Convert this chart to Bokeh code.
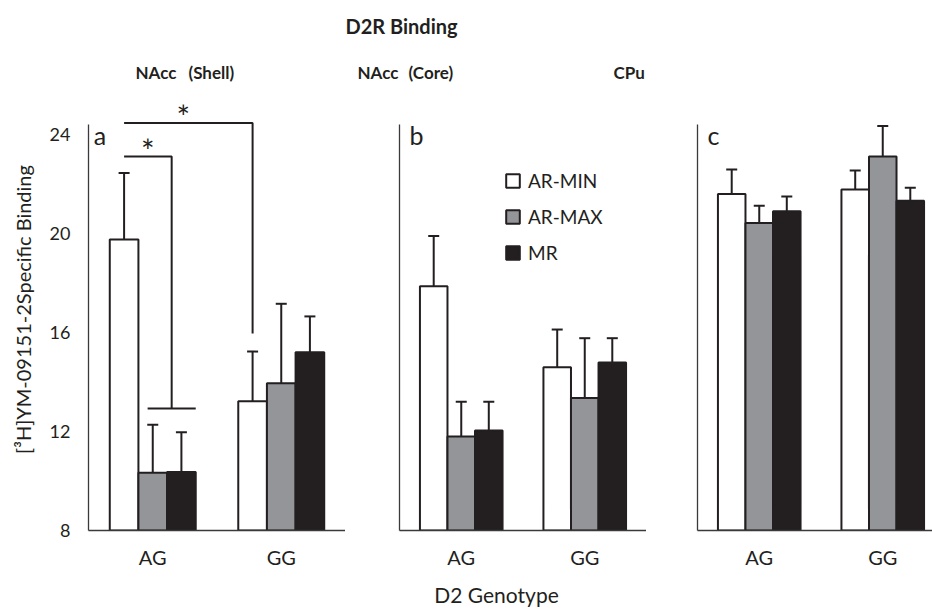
from bokeh.plotting import figure
from bokeh.models import Range1d, FixedTicker, ColumnDataSource, Whisker, TeeHead, Legend, LegendItem
from bokeh.layouts import column, row
from bokeh.embed import file_html
from bokeh.resources import INLINE
from bokeh.core.properties import value

# ---------------- data ----------------
genotypes = ["AG", "GG"]
groups = ["AR-MIN", "AR-MAX", "MR"]

shell_ag = [19.76, 10.33, 10.36]
shell_gg = [13.22, 13.95, 15.20]
shell_ag_sem = [2.68, 1.94, 1.61]
shell_gg_sem = [2.01, 3.21, 1.45]

core_ag = [17.87, 11.80, 12.04]
core_gg = [14.60, 13.35, 14.79]
core_ag_sem = [2.03, 1.40, 1.16]
core_gg_sem = [1.52, 2.42, 0.98]

cpu_ag = [21.60, 20.42, 20.90]
cpu_gg = [21.78, 23.11, 21.32]
cpu_ag_sem = [0.99, 0.70, 0.60]
cpu_gg_sem = [0.77, 1.23, 0.53]

y_ticks = [8, 12, 16, 20, 24]
y_min = 8

# significance brackets (panel a), y levels in data units
sig_outer_y = 24.46
sig_outer_drop = 15.96
sig_inner_y = 23.11
sig_inner_low = 12.93

# ---------------- style ----------------
FONT = value("Lato")
INK = "#231f20"
AXIS = "#3a3a3a"
fills = ["#ffffff", "#939598", "#231f20"]
BW = 0.223
FIG_H = 487
BORDER_B = 45
PX_PER_UNIT = 24.75
y_max = y_min + (FIG_H - BORDER_B) / PX_PER_UNIT


def bar_x(i, k):
    return i + 0.5 + (k - 1) * BW


def make_panel(ag, gg, ag_sem, gg_sem, frame_w, x_end, border_l, letter, letter_x, yticks_on):
    p = figure(width=border_l + frame_w, height=FIG_H,
               x_range=Range1d(0, x_end), y_range=Range1d(y_min, y_max),
               output_backend="svg", toolbar_location=None,
               min_border_left=border_l, min_border_right=0,
               min_border_top=0, min_border_bottom=BORDER_B)
    p.outline_line_color = None
    p.grid.visible = False
    p.background_fill_color = "white"
    p.border_fill_color = "white"

    renderers = []
    for k, g in enumerate(groups):
        xs = [bar_x(i, k) for i in range(len(genotypes))]
        tops = [ag[k], gg[k]]
        sems = [ag_sem[k], gg_sem[k]]
        src = ColumnDataSource(dict(x=xs, top=tops, upper=[t + s for t, s in zip(tops, sems)]))
        r = p.vbar(x="x", top="top", bottom=y_min, width=BW, source=src,
                   fill_color=fills[k], line_color=INK, line_width=2)
        renderers.append(r)
        w = Whisker(source=src, base="x", upper="upper", lower="top", dimension="height",
                    line_color=INK, line_width=2, lower_head=None,
                    upper_head=TeeHead(size=11, line_width=2, line_color=INK))
        p.add_layout(w)

    # axes
    p.xaxis.ticker = FixedTicker(ticks=[i + 0.5 for i in range(len(genotypes))])
    p.xaxis.major_label_overrides = {i + 0.5: g for i, g in enumerate(genotypes)}
    p.xaxis.major_label_text_font = "Lato"
    p.xaxis.major_label_text_font_size = "20px"
    p.xaxis.major_label_text_color = INK
    p.xaxis.major_label_standoff = 8
    for ax in (p.xaxis, p.yaxis):
        ax.axis_line_color = AXIS
        ax.axis_line_width = 1.3
        ax.major_tick_line_color = None
        ax.minor_tick_line_color = None
    p.yaxis.bounds = (y_min, 24.4)
    if yticks_on:
        p.yaxis.ticker = FixedTicker(ticks=y_ticks)
        p.yaxis.major_label_text_font = "Lato"
        p.yaxis.major_label_text_font_size = "18px"
        p.yaxis.major_label_text_color = INK
        p.yaxis.major_label_standoff = 12
        p.yaxis.axis_label = "[\u00b3H]YM-09151-2Specific Binding"
        p.yaxis.axis_label_text_font = "Lato"
        p.yaxis.axis_label_text_font_size = "20px"
        p.yaxis.axis_label_text_font_style = "normal"
        p.yaxis.axis_label_text_color = INK
        p.yaxis.axis_label_standoff = 12
    else:
        p.yaxis.ticker = FixedTicker(ticks=[])

    p.text(x=[letter_x], y=[24.0], text=[letter], text_font=FONT, text_font_size="25px",
           text_align="center", text_baseline="middle", text_color=INK)
    return p, renderers


pa, ra = make_panel(shell_ag, shell_gg, shell_ag_sem, shell_gg_sem, 257, 2.0, 88, "a", 0.09, True)
pb, rb = make_panel(core_ag, core_gg, core_ag_sem, core_gg_sem, 247, 2.0, 54, "b", 0.138, False)
pc, rc = make_panel(cpu_ag, cpu_gg, cpu_ag_sem, cpu_gg_sem, 235, 235 / 123.5, 51, "c", 0.13, False)

# significance brackets on panel a
x_min_ag = bar_x(0, 0)
x_min_gg = bar_x(1, 0)
low_l = bar_x(0, 1) - 0.04
low_r = bar_x(0, 2) + BW / 2
mid_low = (low_l + low_r) / 2
pa.line(x=[x_min_ag, x_min_gg, x_min_gg], y=[sig_outer_y, sig_outer_y, sig_outer_drop],
        line_color=INK, line_width=2)
pa.line(x=[x_min_ag, mid_low, mid_low], y=[sig_inner_y, sig_inner_y, sig_inner_low],
        line_color=INK, line_width=2)
pa.line(x=[low_l, low_r], y=[sig_inner_low, sig_inner_low], line_color=INK, line_width=2)
pa.text(x=[(x_min_ag + x_min_gg) / 2 - 0.04, (x_min_ag + mid_low) / 2],
        y=[sig_outer_y + 0.25, sig_inner_y + 0.25], text=["*", "*"], text_font=FONT,
        text_font_size="32px", text_align="center", text_baseline="alphabetic", text_color=INK)

# legend on panel b
legend = Legend(items=[LegendItem(label=g, renderers=[r]) for g, r in zip(groups, rb)],
                location=(105, 266), glyph_width=17, glyph_height=17, label_standoff=7,
                spacing=13, padding=0, margin=0, background_fill_alpha=0,
                border_line_color=None, label_text_font="Lato", label_text_font_size="19px",
                label_text_color=INK, label_height=17)
pb.add_layout(legend)

# title strip
top = figure(width=932, height=88, x_range=Range1d(0, 932), y_range=Range1d(88, 0),
             x_axis_location=None, y_axis_location=None, min_border=0,
             output_backend="svg", toolbar_location=None)
top.outline_line_color = None
top.grid.visible = False
top.text(x=[401], y=[25], text=["D2R Binding"], text_font=FONT, text_font_size="20px",
         text_font_style="bold", text_align="center", text_baseline="alphabetic", text_color=INK)
top.text(x=[135, 188, 357, 408, 613], y=[72, 72, 72, 72, 72],
         text=["NAcc", "(Shell)", "NAcc", "(Core)", "CPu"], text_font=FONT,
         text_font_size="17px", text_font_style="bold", text_align="left",
         text_baseline="alphabetic", text_color=INK)

bottom = figure(width=932, height=37, x_range=Range1d(0, 932), y_range=Range1d(37, 0),
                x_axis_location=None, y_axis_location=None, min_border=0,
                output_backend="svg", toolbar_location=None)
bottom.outline_line_color = None
bottom.grid.visible = False
bottom.text(x=[496], y=[19], text=["D2 Genotype"], text_font=FONT, text_font_size="21px",
            text_align="center", text_baseline="alphabetic", text_color=INK)

layout = column(top, row(pa, pb, pc, spacing=0), bottom, spacing=0)
open("out.html", "w").write(file_html(layout, INLINE))
